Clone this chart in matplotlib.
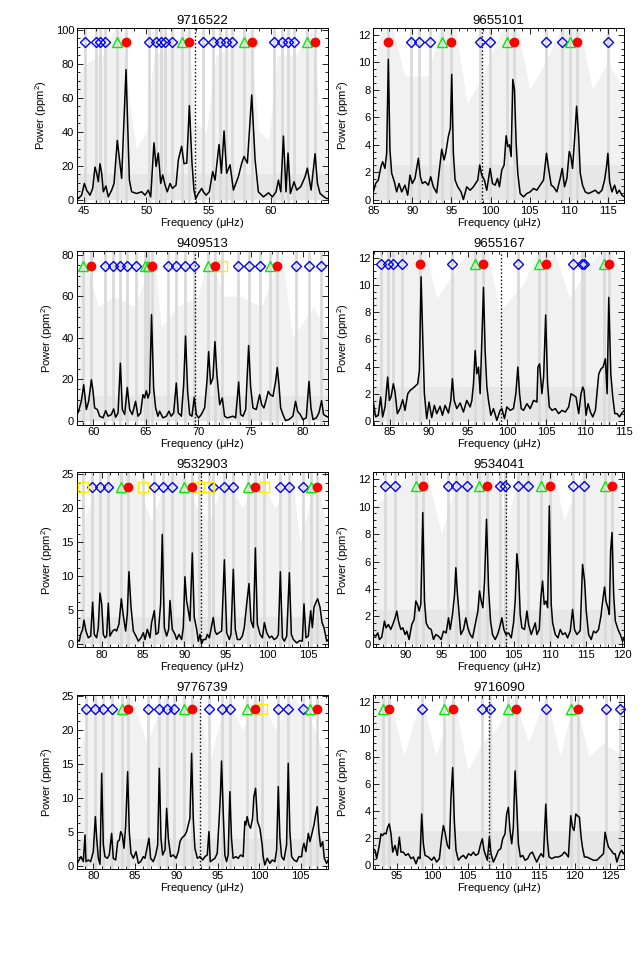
#!/usr/bin/env python3
"""
Eight red-giant power spectra (grey raw, black smoothed) with mode identifications.
"""

import matplotlib
matplotlib.use('Agg')
import matplotlib.pyplot as plt
from matplotlib.ticker import MultipleLocator, AutoMinorLocator

plt.rcParams['font.family'] = ['Liberation Sans', 'DejaVu Sans']
plt.rcParams['mathtext.default'] = 'regular'

# ─────────────────────────────────────────────────────────────────
# Data
# ─────────────────────────────────────────────────────────────────

STARS = ['9716522', '9655101', '9409513', '9655167',
         '9532903', '9534041', '9776739', '9716090']

# smoothed spectra: frequency [muHz] and power [ppm^2]
freq_9716522 = [43.74, 44.01, 44.28, 44.55, 44.81, 45.03, 45.21, 45.48, 45.70, 45.88,
                46.02, 46.15, 46.28, 46.42, 46.55, 46.76, 46.95, 47.22, 47.41, 47.67,
                48.02, 48.37, 48.64, 48.82, 49.22, 49.63, 49.89, 50.16, 50.35, 50.61,
                50.78, 50.96, 51.15, 51.31, 51.50, 51.68, 51.90, 52.09, 52.38, 52.57,
                52.83, 53.02, 53.24, 53.45, 53.66, 53.82, 53.96, 54.17, 54.44, 54.57,
                54.79, 55.05, 55.32, 55.51, 55.83, 56.02, 56.23, 56.44, 56.71, 56.98,
                57.38, 57.65, 57.83, 58.10, 58.45, 58.72, 58.98, 59.39, 59.79, 60.11,
                60.40, 60.59, 60.78, 60.99, 61.20, 61.36, 61.55, 61.84, 62.06, 62.38,
                62.73, 62.91, 63.21, 63.53, 63.72, 63.93, 64.25, 64.46, 64.59]
power_9716522 = [3.6, 1.6, 4.0, 0.6, 2.6, 9.5, 5.6, 2.6, 6.6, 19.1,
                 15.5, 10.5, 21.1, 15.5, 4.6, 8.0, 1.6, 5.6, 9.5, 34.8,
                 12.5, 76.5, 11.5, 4.6, 3.6, 4.6, 2.6, 5.6, 1.6, 33.4,
                 19.5, 27.4, 9.5, 14.5, 8.5, 4.6, 9.5, 6.6, 8.5, 23.5,
                 31.4, 21.1, 21.5, 55.3, 21.5, 5.6, 0.6, 3.6, 6.6, 4.6,
                 2.6, 4.6, 16.5, 11.5, 32.4, 15.5, 40.4, 15.5, 20.5, 5.6,
                 13.5, 21.5, 25.4, 21.5, 61.6, 23.5, 4.6, 1.6, 4.0, 1.6,
                 4.6, 11.5, 4.6, 37.4, 4.6, 27.4, 3.6, 10.5, 5.6, 7.6,
                 13.5, 18.5, 5.6, 27.0, 9.5, 3.6, 1.6, 0.6, 0.6]

freq_9655101 = [85.0, 85.3, 85.64, 85.98, 86.2, 86.49, 86.71, 86.92, 87.13, 87.35,
                87.69, 87.99, 88.29, 88.63, 89.05, 89.4, 89.69, 89.99, 90.33, 90.76,
                91.02, 91.27, 91.62, 92.04, 92.34, 92.68, 93.11, 93.45, 93.75, 94.05,
                94.26, 94.6, 94.86, 95.03, 95.24, 95.46, 95.8, 96.22, 96.52, 96.95,
                97.38, 97.8, 98.36, 98.61, 98.87, 99.21, 99.51, 99.94, 100.24, 100.58,
                100.88, 101.13, 101.43, 101.73, 101.99, 102.2, 102.41, 102.63, 102.84, 103.05,
                103.27, 103.48, 103.78, 104.21, 104.63, 105.06, 105.49, 105.91, 106.34, 106.77,
                107.15, 107.41, 107.75, 108.05, 108.47, 108.9, 109.16, 109.46, 109.76, 110.06,
                110.27, 110.48, 110.74, 111.0, 111.26, 111.47, 111.76, 112.1, 112.53, 112.96,
                113.38, 113.81, 114.24, 114.58, 114.83, 115.0, 115.22, 115.52, 115.86, 116.16,
                116.46, 116.8, 117.1]
power_9655101 = [0.56, 1.17, 1.42, 2.40, 2.76, 2.27, 3.37, 10.22, 3.62, 1.91,
                 1.30, 0.56, 1.17, 0.56, 1.05, 0.32, 1.78, 1.17, 1.54, 3.01,
                 1.66, 1.17, 1.30, 1.05, 1.66, 0.93, 0.49, 2.15, 3.67, 2.89,
                 3.37, 4.60, 5.21, 9.12, 3.37, 1.42, 0.93, 0.56, 0.0, 0.93,
                 0.68, 0.93, 1.42, 2.52, 1.78, 1.42, 0.68, 2.27, 1.17, 1.05,
                 1.54, 0.93, 2.15, 2.52, 4.65, 3.86, 3.99, 3.13, 8.75, 8.02,
                 4.11, 1.91, 0.44, 0.20, 0.44, 0.56, 0.81, 0.68, 1.05, 1.42,
                 3.37, 2.27, 1.05, 0.93, 0.56, 1.54, 2.27, 0.93, 1.54, 3.50,
                 3.13, 2.27, 4.35, 6.80, 4.60, 1.91, 1.05, 0.56, 0.44, 0.56,
                 0.68, 0.44, 0.68, 1.42, 2.40, 3.37, 1.30, 0.56, 1.05, 0.44,
                 0.68, 0.32, 0.20]

freq_9409513 = [57.6, 57.92, 58.24, 58.56, 58.87, 59.1, 59.35, 59.57, 59.83, 59.99,
                60.14, 60.4, 60.62, 60.94, 61.19, 61.42, 61.73, 61.95, 62.14, 62.37,
                62.59, 62.78, 63.0, 63.25, 63.48, 63.73, 64.04, 64.27, 64.52, 64.74,
                64.9, 65.06, 65.22, 65.38, 65.56, 65.76, 65.95, 66.17, 66.33, 66.65,
                66.97, 67.22, 67.44, 67.67, 67.92, 68.11, 68.4, 68.62, 68.8, 69.0,
                69.19, 69.41, 69.63, 69.83, 70.05, 70.3, 70.62, 70.84, 71.0, 71.19,
                71.41, 71.6, 71.79, 72.05, 72.3, 72.52, 72.78, 73.0, 73.32, 73.57,
                73.86, 74.05, 74.27, 74.53, 74.81, 75.0, 75.22, 75.54, 75.86, 76.05,
                76.27, 76.49, 76.68, 76.87, 77.13, 77.38, 77.54, 77.7, 77.86, 78.08,
                78.33, 78.65, 79.03, 79.28, 79.47, 79.73, 79.98, 80.3, 80.56, 80.75,
                80.94, 81.26, 81.51, 81.76, 81.95, 82.2, 82.39]
power_9409513 = [4.8, 3.7, 5.3, 3.7, 9.3, 17.3, 5.3, 9.3, 19.7, 14.1,
                 6.1, 5.3, 2.1, 1.3, 4.8, 2.1, 2.9, 5.6, 1.6, 3.7,
                 27.7, 5.3, 2.9, 16.0, 5.3, 2.9, 9.3, 2.1, 3.7, 12.5,
                 10.9, 14.4, 10.9, 13.3, 51.2, 15.7, 6.1, 2.1, 4.5, 1.3,
                 2.1, 4.5, 2.1, 3.7, 18.1, 3.7, 2.1, 17.3, 40.8, 14.1,
                 2.9, 2.1, 11.2, 2.9, 1.3, 2.9, 6.1, 18.9, 33.3, 17.6,
                 20.5, 38.1, 22.1, 7.7, 10.9, 2.1, 1.3, 1.6, 2.1, 1.3,
                 18.6, 2.9, 2.1, 5.3, 36.2, 16.5, 6.1, 5.3, 12.5, 7.7,
                 6.1, 10.1, 14.1, 12.5, 11.7, 18.9, 25.6, 17.3, 6.1, 2.9,
                 0.0, 0.5, 2.1, 9.3, 4.5, 2.9, 0.5, 1.3, 18.9, 6.1,
                 0.5, 1.3, 3.7, 9.6, 2.9, 2.1, 1.6]

freq_9655167 = [82.86, 83.16, 83.5, 83.8, 84.06, 84.36, 84.7, 84.92, 85.13, 85.43,
                85.64, 85.94, 86.28, 86.62, 86.92, 87.27, 87.57, 87.87, 88.2, 88.55,
                88.76, 88.98, 89.19, 89.4, 89.7, 90.0, 90.34, 90.68, 90.98, 91.41,
                91.71, 92.05, 92.48, 92.78, 92.99, 93.21, 93.55, 93.98, 94.4, 94.83,
                95.26, 95.48, 95.69, 95.9, 96.11, 96.33, 96.54, 96.8, 96.97, 97.18,
                97.4, 97.61, 97.91, 98.25, 98.68, 99.1, 99.32, 99.66, 99.96, 100.39,
                100.81, 101.11, 101.37, 101.59, 101.8, 102.1, 102.53, 102.95, 103.38, 103.81,
                103.94, 104.15, 104.45, 104.67, 104.93, 105.18, 105.4, 105.74, 106.17, 106.59,
                107.02, 107.45, 107.88, 108.18, 108.52, 108.82, 109.16, 109.46, 109.68, 109.85,
                110.1, 110.36, 110.66, 110.96, 111.3, 111.73, 112.03, 112.28, 112.58, 112.8,
                113.01, 113.27, 113.52, 113.78, 114.08, 114.38, 114.64, 114.98]
power_9655167 = [1.41, 0.32, 0.44, 1.78, 0.32, 1.05, 3.24, 1.53, 1.78, 2.75,
                 2.14, 0.56, 0.93, 1.58, 0.8, 2.02, 2.26, 2.39, 2.56, 2.75,
                 3.72, 10.59, 6.16, 2.02, 0.19, 1.41, 0.27, 1.17, 0.56, 1.1,
                 0.44, 1.17, 0.61, 1.53, 3.12, 1.53, 0.93, 1.34, 0.68, 1.53,
                 1.05, 1.53, 2.75, 5.18, 3.48, 3.97, 2.02, 6.65, 9.81, 5.18,
                 2.51, 1.53, 0.44, 0.93, 0.07, 0.8, 0.93, 0.19, 1.05, 0.8,
                 0.93, 2.02, 3.97, 2.02, 0.93, 0.8, 1.29, 0.93, 1.53, 1.41,
                 3.97, 4.21, 2.02, 3.24, 7.79, 2.75, 1.05, 0.8, 0.93, 0.56,
                 0.8, 0.68, 1.05, 2.02, 1.9, 1.78, 0.56, 2.02, 2.51, 2.26,
                 0.44, 1.29, 0.68, 0.32, 0.8, 3.48, 3.85, 3.97, 4.58, 2.02,
                 9.08, 3.48, 1.78, 0.56, 0.56, 0.32, 0.56, 0.8]

freq_9532903 = [76.97, 77.29, 77.46, 77.7, 77.86, 78.1, 78.38, 78.67, 78.91, 79.11,
                79.39, 79.59, 79.79, 80.0, 80.2, 80.4, 80.6, 80.8, 81.0, 81.33,
                81.61, 81.81, 82.09, 82.38, 82.62, 82.9, 83.1, 83.3, 83.55, 83.83,
                84.15, 84.44, 84.76, 85.04, 85.24, 85.52, 85.84, 86.04, 86.37, 86.57,
                86.85, 87.13, 87.33, 87.58, 87.86, 88.1, 88.26, 88.54, 88.87, 89.07,
                89.35, 89.67, 89.87, 90.07, 90.27, 90.68, 90.96, 91.2, 91.49, 91.69,
                91.89, 92.09, 92.29, 92.58, 92.78, 93.02, 93.22, 93.5, 93.71, 93.91,
                94.19, 94.51, 94.84, 95.12, 95.44, 95.64, 95.92, 96.16, 96.41, 96.73,
                97.01, 97.25, 97.54, 97.82, 98.06, 98.35, 98.59, 98.83, 99.16, 99.44,
                99.68, 99.96, 100.29, 100.57, 100.85, 101.17, 101.37, 101.61, 101.86, 102.1,
                102.38, 102.7, 102.94, 103.18, 103.59, 103.99, 104.27, 104.47, 104.71, 104.99,
                105.28, 105.48, 105.68, 105.92, 106.12, 106.41, 106.65, 106.89, 107.22, 107.41]
power_9532903 = [0.65, 0.4, 1.4, 2.15, 3.5, 1.9, 0.9, 1.15, 6.15, 1.4,
                 0.9, 2.4, 7.5, 5.9, 1.4, 0.9, 1.15, 6.0, 1.15, 1.9,
                 2.15, 1.9, 2.9, 6.65, 4.15, 1.9, 4.4, 10.65, 5.4, 1.9,
                 1.15, 0.4, 0.9, 1.65, 0.65, 2.15, 0.9, 3.15, 4.9, 1.4,
                 1.65, 5.9, 16.15, 2.4, 1.15, 2.15, 6.4, 2.15, 1.4, 0.65,
                 1.4, 0.65, 2.4, 9.9, 6.4, 3.4, 13.4, 3.9, 2.15, 0.4,
                 1.4, 0.0, 0.65, 0.65, 1.4, 0.9, 2.15, 3.9, 1.9, 1.4,
                 1.65, 1.9, 12.4, 1.65, 0.65, 1.4, 11.0, 2.15, 0.65, 0.65,
                 1.15, 2.4, 5.9, 8.9, 3.4, 2.4, 14.15, 2.9, 1.4, 0.9,
                 3.15, 1.65, 0.9, 1.15, 0.65, 0.9, 1.4, 10.65, 0.9, 0.4,
                 1.15, 10.5, 1.4, 0.65, 0.15, 0.5, 0.4, 5.9, 0.9, 1.15,
                 4.9, 2.4, 5.4, 6.15, 6.65, 5.4, 3.15, 2.4, 0.4, 0.65]

freq_9534041 = [85.62, 85.94, 86.22, 86.45, 86.77, 87.14, 87.37, 87.69, 88.02, 88.29,
                88.62, 88.85, 89.08, 89.4, 89.68, 90.0, 90.23, 90.55, 90.92, 91.25,
                91.48, 91.71, 91.94, 92.17, 92.44, 92.68, 92.91, 93.23, 93.6, 93.92,
                94.24, 94.61, 94.98, 95.3, 95.67, 96.0, 96.23, 96.55, 96.83, 97.01,
                97.2, 97.47, 97.7, 98.07, 98.39, 98.67, 98.99, 99.32, 99.69, 100.06,
                100.29, 100.52, 100.75, 100.98, 101.25, 101.53, 101.81, 102.08, 102.45, 102.78,
                103.05, 103.38, 103.65, 103.93, 104.3, 104.67, 104.99, 105.22, 105.45, 105.68,
                105.91, 106.14, 106.51, 106.84, 107.07, 107.44, 107.76, 107.99, 108.22, 108.54,
                108.77, 109.0, 109.23, 109.47, 109.7, 109.93, 110.2, 110.39, 110.76, 111.13,
                111.45, 111.77, 112.14, 112.46, 112.83, 113.15, 113.42, 113.75, 114.21, 114.53,
                114.81, 115.04, 115.36, 115.73, 116.05, 116.38, 116.74, 117.07, 117.34, 117.57,
                117.76, 118.04, 118.23, 118.41, 118.6, 118.83, 119.06, 119.43, 119.75, 120.07,
                120.3]
power_9534041 = [0.68, 0.56, 0.8, 0.32, 0.49, 1.66, 1.17, 1.41, 1.05, 1.41,
                 1.9, 2.39, 1.66, 1.05, 1.17, 0.68, 0.93, 0.32, 1.41, 1.78,
                 3.12, 2.87, 2.39, 2.87, 9.57, 3.12, 1.53, 1.17, 1.05, 0.32,
                 0.68, 0.56, 0.32, 0.93, 0.8, 1.9, 1.05, 2.14, 3.6, 5.55,
                 3.85, 2.14, 0.68, 1.05, 1.9, 1.17, 0.68, 0.44, 1.41, 2.39,
                 3.85, 3.12, 2.63, 4.58, 9.08, 4.09, 1.66, 0.68, 0.32, 0.68,
                 1.17, 1.9, 1.05, 0.68, 0.8, 0.44, 1.53, 3.12, 6.57, 5.31,
                 2.14, 1.17, 1.05, 2.39, 1.41, 0.68, 1.17, 1.53, 0.68, 1.05,
                 3.36, 4.58, 2.87, 3.12, 2.63, 10.05, 2.87, 1.53, 0.68, 0.44,
                 1.05, 0.68, 0.8, 0.44, 0.93, 2.51, 1.05, 0.68, 0.97, 5.79,
                 4.58, 2.39, 0.68, 0.32, 0.93, 0.8, 1.05, 2.02, 3.24, 4.14,
                 3.12, 2.63, 2.14, 6.77, 8.11, 3.6, 1.66, 1.05, 0.68, 0.19,
                 0.49]

freq_9776739 = [77.99, 78.28, 78.52, 78.8, 79.0, 79.12, 79.4, 79.68, 80.0, 80.25,
                80.41, 80.61, 80.81, 81.01, 81.21, 81.41, 81.69, 81.93, 82.21, 82.41,
                82.7, 82.94, 83.14, 83.3, 83.5, 83.7, 83.9, 84.14, 84.34, 84.54,
                84.83, 85.15, 85.43, 85.71, 86.03, 86.23, 86.51, 86.71, 86.91, 87.23,
                87.52, 87.76, 87.96, 88.16, 88.36, 88.64, 88.84, 89.05, 89.33, 89.65,
                89.97, 90.25, 90.45, 90.65, 90.85, 91.05, 91.25, 91.45, 91.65, 91.85,
                92.05, 92.25, 92.54, 92.86, 93.18, 93.46, 93.74, 93.94, 94.1, 94.38,
                94.66, 94.94, 95.18, 95.34, 95.46, 95.66, 95.86, 96.06, 96.26, 96.46,
                96.66, 96.86, 97.19, 97.47, 97.75, 98.07, 98.27, 98.39, 98.55, 98.76,
                98.96, 99.2, 99.36, 99.56, 99.8, 100.08, 100.36, 100.48, 100.68, 100.97,
                101.29, 101.57, 101.89, 102.1, 102.3, 102.5, 102.7, 102.98, 103.3, 103.5,
                103.7, 103.91, 104.19, 104.51, 104.79, 105.11, 105.23, 105.39, 105.63, 105.92,
                106.12, 106.32, 106.6, 106.8, 107.0, 107.2, 107.4, 107.65, 107.85, 108.13,
                108.33]
power_9776739 = [0.25, 0.88, 1.37, 0.64, 4.56, 0.64, 0.88, 0.64, 2.11, 7.25,
                 4.07, 1.13, 0.25, 13.63, 3.09, 1.37, 1.13, 1.62, 4.8, 1.13,
                 0.88, 3.58, 3.82, 5.05, 4.56, 2.6, 5.78, 13.87, 5.05, 1.86,
                 1.13, 2.11, 0.39, 0.64, 1.37, 1.13, 2.84, 4.07, 1.13, 0.64,
                 1.62, 3.09, 14.36, 4.07, 1.62, 2.35, 8.48, 4.07, 1.37, 1.62,
                 1.13, 2.11, 3.58, 4.07, 4.31, 4.56, 5.05, 6.03, 7.01, 16.57,
                 7.01, 2.6, 1.13, 1.37, 0.88, 1.37, 1.62, 5.05, 0.64, 0.88,
                 1.13, 1.86, 7.01, 10.93, 15.44, 7.99, 1.62, 0.64, 1.62, 10.93,
                 4.07, 1.13, 1.37, 1.13, 1.62, 1.37, 6.52, 6.03, 7.25, 6.03,
                 5.54, 7.01, 10.2, 11.42, 6.52, 5.54, 3.09, 1.37, 0.15, 1.13,
                 0.39, 0.88, 0.64, 2.35, 11.67, 4.07, 1.37, 0.88, 3.09, 15.1,
                 5.05, 1.37, 0.88, 0.64, 1.37, 1.37, 2.6, 3.33, 2.11, 4.8,
                 3.58, 4.56, 6.03, 7.5, 8.73, 5.05, 2.84, 3.58, 1.13, 0.39,
                 0.88]

freq_9716090 = [91.71, 91.96, 92.18, 92.51, 92.79, 93.02, 93.26, 93.5, 93.73, 93.96,
                94.2, 94.44, 94.76, 95.09, 95.37, 95.6, 95.93, 96.26, 96.63, 97.01,
                97.34, 97.71, 98.04, 98.28, 98.51, 98.75, 98.98, 99.45, 99.92, 100.25,
                100.62, 101.0, 101.33, 101.56, 101.79, 102.12, 102.4, 102.63, 102.87, 103.1,
                103.34, 103.67, 104.04, 104.37, 104.75, 105.08, 105.45, 105.78, 106.1, 106.48,
                106.81, 107.04, 107.28, 107.51, 107.75, 108.03, 108.26, 108.59, 108.92, 109.3,
                109.62, 109.9, 110.23, 110.46, 110.7, 110.93, 111.17, 111.4, 111.64, 111.87,
                112.11, 112.39, 112.72, 113.05, 113.42, 113.75, 114.08, 114.36, 114.69, 115.02,
                115.3, 115.63, 115.96, 116.19, 116.42, 116.8, 117.27, 117.74, 118.2, 118.58,
                118.81, 119.14, 119.47, 119.71, 119.94, 120.18, 120.41, 120.69, 120.93, 121.11,
                121.39, 121.72, 122.19, 122.66, 123.13, 123.6, 124.07, 124.3, 124.54, 124.77,
                125.15, 125.48, 125.71, 125.95, 126.18, 126.42, 126.65, 126.88]
power_9716090 = [1.22, 1.1, 0.49, 1.34, 2.31, 2.19, 2.36, 2.31, 2.8, 3.04,
                 2.31, 0.97, 1.46, 0.73, 2.07, 0.97, 0.97, 0.73, 0.85, 0.49,
                 0.61, 0.12, 0.61, 0.49, 3.77, 1.58, 0.73, 0.61, 0.37, 0.61,
                 0.24, 0.49, 2.07, 2.92, 2.43, 1.46, 1.22, 4.99, 7.18, 3.29,
                 1.1, 0.37, 0.61, 0.73, 0.49, 0.85, 0.73, 0.97, 0.73, 0.85,
                 1.58, 1.95, 1.1, 0.73, 0.37, 2.07, 0.85, 0.24, 0.61, 1.1,
                 1.22, 1.95, 2.31, 3.77, 4.26, 2.56, 1.58, 2.8, 6.94, 4.5,
                 1.58, 0.61, 0.73, 0.37, 0.49, 0.85, 0.97, 0.61, 0.24, 0.61,
                 0.85, 0.61, 4.5, 1.83, 0.61, 0.49, 0.61, 0.61, 0.73, 0.97,
                 0.85, 0.61, 3.65, 2.8, 2.56, 3.77, 3.65, 3.53, 2.07, 1.34,
                 0.61, 0.61, 0.49, 0.37, 0.37, 0.61, 0.85, 2.43, 1.83, 1.34,
                 1.1, 0.85, 0.85, 0.24, 0.61, 0.97, 1.1, 0.85]

# envelope of the grey raw spectrum (rough upper reach of the spikes)
rawf_9716522 = [43.74, 45.0, 46.5, 47.4, 48.0, 48.6, 49.2, 50.0, 50.6, 52.0, 53.3, 54.0,
                54.8, 55.6, 57.0, 58.3, 59.0, 59.8, 60.5, 62.0, 63.3, 64.0, 64.59]
rawp_9716522 = [55, 80, 85, 100, 100, 60, 30, 40, 85, 90, 100, 45,
                40, 85, 90, 100, 40, 35, 85, 85, 100, 45, 35]
rawf_9655101 = [85.0, 86.0, 87.5, 89.0, 92.0, 93.5, 95.5, 97.0, 99.0, 101.5, 103.5, 105.0,
                107.0, 109.0, 111.5, 113.0, 115.0, 117.1]
rawp_9655101 = [9, 12.5, 12.5, 9, 9, 12.5, 12.5, 7, 9, 12.5, 12.5, 8,
                10, 12.5, 12.5, 8, 10, 8]
rawf_9409513 = [57.6, 59.0, 60.5, 62.0, 64.0, 65.8, 66.5, 68.0, 70.0, 71.0, 72.5, 74.0,
                76.0, 78.0, 79.0, 81.0, 82.4]
rawp_9409513 = [50, 81, 55, 60, 55, 81, 45, 55, 60, 81, 60, 60,
                55, 81, 40, 55, 40]
rawf_9655167 = [82.86, 85.0, 88.0, 89.5, 91.0, 95.0, 97.5, 99.0, 102.0, 104.0, 106.0, 108.0,
                110.0, 112.0, 113.5, 115.0]
rawp_9655167 = [10, 12.5, 12.5, 12.5, 9, 12.5, 12.5, 8, 10, 12.5, 12.5, 9,
                11, 12.5, 12.5, 10]
rawf_9532903 = [77.0, 79.0, 82.0, 84.0, 86.0, 88.0, 90.0, 91.5, 93.0, 95.0, 97.0, 99.0,
                101.0, 103.0, 104.0, 106.0, 107.4]
rawp_9532903 = [15, 22, 25, 25, 18, 25, 25, 20, 18, 25, 20, 25,
                20, 25, 15, 25, 15]
rawf_9534041 = [85.6, 88.0, 91.0, 93.0, 95.0, 97.5, 100.0, 102.0, 104.0, 106.0, 108.0, 110.5,
                112.0, 114.5, 117.0, 119.0, 120.3]
rawp_9534041 = [10, 11, 12.5, 12.5, 8, 12.5, 12.5, 12.5, 9, 12.5, 12.5, 12.5,
                9, 12.5, 12.5, 12.5, 8]
rawf_9776739 = [78.0, 80.0, 82.0, 84.5, 86.5, 88.5, 90.5, 92.5, 94.0, 96.0, 98.0, 100.0,
                102.0, 104.0, 106.0, 108.3]
rawp_9776739 = [15, 25, 22, 25, 18, 25, 22, 25, 15, 25, 20, 25,
                20, 25, 22, 15]
rawf_9716090 = [91.71, 94.0, 96.0, 98.5, 100.5, 103.0, 105.0, 107.0, 109.0, 111.5, 113.5, 116.0,
                118.0, 120.0, 122.0, 124.0, 127.0]
rawp_9716090 = [12.5, 12.5, 8, 12.5, 8, 12.5, 7, 9, 10, 12.5, 9, 12.5,
                8, 12.5, 8, 9, 8]

# dense part of the grey spectrum near the baseline
raw_dense = [15, 2.5, 12, 2.5, 4, 2.5, 4, 2.5]

# mode identifications [muHz]
dip_9716522 = [45.08, 45.94, 46.28, 46.68, 50.21, 50.77, 51.15, 51.50, 52.03,
               54.52, 55.37, 55.91, 56.39, 56.87, 60.26, 60.85, 61.33, 61.82]
tri_9716522 = [47.67, 52.83, 57.83, 62.86]
rad_9716522 = [48.37, 53.45, 58.45, 63.52]
sq_9716522 = []

dip_9655101 = [89.83, 90.81, 92.22, 98.62, 99.94, 107.15, 109.16, 115.0]
tri_9655101 = [93.8, 102.08, 110.18]
rad_9655101 = [86.88, 94.99, 103.0, 111.0]
sq_9655101 = []

dip_9409513 = [61.1, 61.89, 62.59, 63.26, 64.05, 67.12, 67.92, 68.71, 69.64,
               73.83, 74.81, 75.86, 79.35, 80.55, 81.73]
tri_9409513 = [59.03, 64.9, 65.22, 70.93, 76.81]
rad_9409513 = [59.76, 65.6, 71.64, 77.54]
sq_9409513 = [72.3]

dip_9655167 = [83.8, 84.7, 85.43, 86.58, 92.91, 101.37, 108.38, 109.58, 109.83]
tri_9655167 = [95.9, 104.1, 112.35]
rad_9655167 = [88.89, 96.97, 104.96, 113.08]
sq_9655167 = []

dip_9532903 = [78.79, 79.79, 80.80, 86.33, 87.38, 88.47, 93.43, 94.79, 95.92,
               101.57, 102.69, 104.39]
tri_9532903 = [82.3, 89.96, 97.73, 105.32]
rad_9532903 = [83.22, 90.96, 98.58, 106.08]
sq_9532903 = [77.7, 84.96, 91.77, 93.02, 99.67]

dip_9534041 = [87.23, 88.62, 95.9, 97.06, 98.53, 103.05, 103.84, 105.59, 106.97,
               113.2, 114.67]
tri_9534041 = [91.48, 100.24, 108.82, 117.57]
rad_9534041 = [92.53, 101.3, 109.97, 118.59]
sq_9534041 = []

dip_9776739 = [79.12, 80.24, 81.13, 82.22, 86.63, 87.92, 88.92, 89.73, 93.98,
               95.48, 96.48, 102.3, 103.5, 105.31]
tri_9776739 = [83.42, 90.93, 98.49, 106.12]
rad_9776739 = [84.22, 91.93, 99.49, 107.0]
sq_9776739 = [100.37]

dip_9716090 = [98.52, 106.95, 108.12, 116.0, 124.4, 126.4]
tri_9716090 = [93.03, 101.61, 110.7, 119.47]
rad_9716090 = [93.96, 102.88, 111.74, 120.54]
sq_9716090 = []

# nu_max (dotted line)
NUMAX = [53.94, 98.9, 69.7, 99.23, 92.06, 103.9, 92.86, 108.0]

# ─────────────────────────────────────────────────────────────────
# Layout (pixels of the 643x966 figure)
# ─────────────────────────────────────────────────────────────────

FIG_W, FIG_H = 643, 966
# left, right, top, bottom frame edges
FRAMES = [(77.0, 328.3, 28.0, 203.0), (373.3, 624.3, 28.0, 203.0),
          (77.0, 328.3, 250.7, 424.7), (373.3, 624.3, 250.7, 424.7),
          (76.7, 328.3, 472.3, 647.3), (373.3, 624.3, 472.3, 647.3),
          (76.7, 328.3, 695.3, 868.7), (373.3, 624.3, 695.3, 868.7)]
XLIMS = [(44.44, 64.59), (85.0, 117.1), (58.46, 82.4), (82.86, 115.0),
         (76.98, 107.41), (85.6, 120.3), (78.0, 108.33), (91.71, 127.0)]
YLIMS = [(-2, 101), (-0.25, 12.5), (-2, 82), (-0.25, 12.5),
         (-0.5, 25.3), (-0.25, 12.5), (-0.4, 25.1), (-0.25, 12.5)]
YSTEP = [20, 2, 20, 2, 5, 2, 5, 2]
MARK_Y = [93, 11.5, 74.5, 11.5, 23.2, 11.5, 23.1, 11.5]

TICK_FS = 8
LABEL_FS = 8
TITLE_FS = 9.5


def draw_panel(ax, i, star):
    g = globals()
    freq, power = g['freq_' + star], g['power_' + star]
    rawf, rawp = g['rawf_' + star], g['rawp_' + star]
    dips, tris = g['dip_' + star], g['tri_' + star]
    rads, sqs = g['rad_' + star], g['sq_' + star]

    # grey raw spectrum
    ax.fill_between(rawf, 0, rawp, color='#f1f1f1', lw=0, zorder=0)
    ax.axhspan(0, raw_dense[i], color='#e7e7e7', lw=0, zorder=0)
    for f in dips + tris + rads + sqs:
        ax.axvline(f, color='#dadada', lw=2.0, zorder=0.5)

    ax.plot(freq, power, color='black', lw=1.1, zorder=3)
    ax.axvline(NUMAX[i], color='black', lw=1.0, ls=(0, (1, 1.6)), zorder=3)

    y = MARK_Y[i]
    ax.plot(dips, [y] * len(dips), 'D', ms=5, mfc='none', mec='#0000ff', mew=1.0,
            zorder=4, clip_on=False)
    ax.plot(sqs, [y] * len(sqs), 's', ms=6.5, mfc='none', mec='#ffee00', mew=1.0,
            zorder=4, clip_on=False)
    ax.plot(tris, [y] * len(tris), '^', ms=7, mfc='none', mec='#00ee00', mew=1.0,
            zorder=4, clip_on=False)
    ax.plot(rads, [y] * len(rads), 'o', ms=6, color='#ff0000', mec='#ff0000',
            zorder=5, clip_on=False)

    ax.set_xlim(*XLIMS[i])
    ax.set_ylim(*YLIMS[i])
    ax.xaxis.set_major_locator(MultipleLocator(5))
    ax.xaxis.set_minor_locator(AutoMinorLocator(5))
    ax.yaxis.set_major_locator(MultipleLocator(YSTEP[i]))
    ax.yaxis.set_minor_locator(AutoMinorLocator(4))
    ax.tick_params(which='both', direction='in', top=True, right=True,
                   labelsize=TICK_FS, width=0.6)
    ax.tick_params(which='major', length=4, pad=2)
    ax.tick_params(which='minor', length=2)
    for sp in ax.spines.values():
        sp.set_linewidth(0.7)

    ax.set_title(star, fontsize=TITLE_FS, pad=3)
    ax.set_xlabel('Frequency ($\\mu$Hz)', fontsize=LABEL_FS, labelpad=0)
    ax.set_ylabel('Power (ppm$^2$)', fontsize=LABEL_FS, labelpad=5)


def main():
    fig = plt.figure(figsize=(FIG_W / 100, FIG_H / 100), dpi=100)
    for i, star in enumerate(STARS):
        x0, x1, y0, y1 = FRAMES[i]
        ax = fig.add_axes([x0 / FIG_W, 1 - y1 / FIG_H,
                           (x1 - x0) / FIG_W, (y1 - y0) / FIG_H])
        draw_panel(ax, i, star)
    fig.savefig('out.png', dpi=100)
    plt.close(fig)


if __name__ == '__main__':
    main()
